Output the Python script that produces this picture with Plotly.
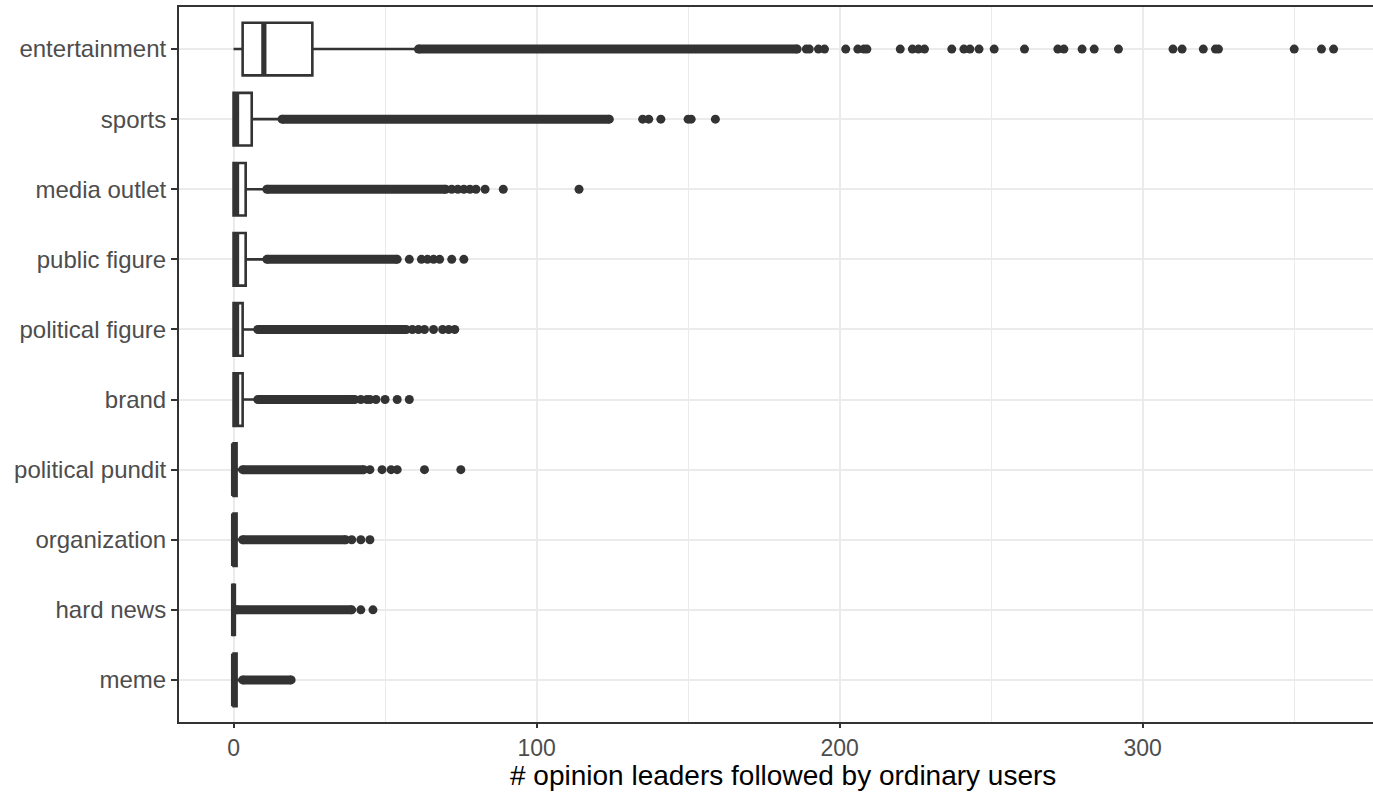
import plotly.graph_objects as go

# Categories, top to bottom
categories = ["entertainment", "sports", "media outlet", "public figure",
              "political figure", "brand", "political pundit", "organization",
              "hard news", "meme"]

# Box statistics (# opinion leaders followed)
q1 = [3, 0, 0, 0, 0, 0, 0, 0, 0, 0]
median = [10, 1, 1, 1, 1, 1, 0, 0, 0, 0]
q3 = [26, 6, 4, 4, 3, 3, 1, 1, 0, 1]
lower_whisker = [0, 0, 0, 0, 0, 0, 0, 0, 0, 0]
upper_whisker = [60, 15, 10, 10, 7, 7, 2, 2, 0, 2]

# Outliers: contiguous runs of overlapping points (first, last) ...
dense_start = [61, 16, 11, 11, 8, 8, 3, 3, 1, 3]
dense_end = [186, 124, 70, 54, 57, 40, 43, 37, 39, 19]

# ... and the isolated outlying points beyond those runs
sparse_outliers = [
    [189, 190, 193, 195, 202, 206, 208, 209, 220, 224, 226, 228, 237, 241,
     243, 246, 251, 261, 272, 274, 280, 284, 292, 310, 313, 320, 324, 325,
     350, 359, 363],
    [135, 137, 141, 150, 151, 159],
    [72, 74, 76, 78, 80, 83, 89, 114],
    [58, 62, 64, 66, 68, 72, 76],
    [59, 61, 63, 66, 69, 71, 73],
    [42, 44, 45, 47, 50, 54, 58],
    [45, 49, 52, 54, 63, 75],
    [39, 42, 45],
    [42, 46],
    [],
]

x_ticks = [0, 100, 200, 300]
x_title = "# opinion leaders followed by ordinary users"

DARK = "#333333"
GRID = "#ebebeb"
FONT = "Liberation Sans, Arial, sans-serif"
BOX_WIDTH = 0.75

positions = list(range(len(categories)))

fig = go.Figure()

fig.add_trace(go.Box(
    orientation="h",
    y=positions,
    q1=q1, median=median, q3=q3,
    lowerfence=lower_whisker, upperfence=upper_whisker,
    width=BOX_WIDTH,
    whiskerwidth=0,
    boxpoints=False,
    fillcolor="white",
    line=dict(color=DARK, width=2.6),
    showlegend=False,
    hoverinfo="skip",
))

# Thicker median bars
mx, my = [], []
for p, m in zip(positions, median):
    mx += [m, m, None]
    my += [p - BOX_WIDTH / 2, p + BOX_WIDTH / 2, None]
fig.add_trace(go.Scatter(
    x=mx, y=my, mode="lines",
    line=dict(color=DARK, width=5.2),
    showlegend=False, hoverinfo="skip",
))

# Dense outlier runs
dx, dy = [], []
for p, s, e in zip(positions, dense_start, dense_end):
    dx += [s, e, None]
    dy += [p, p, None]
fig.add_trace(go.Scatter(
    x=dx, y=dy, mode="lines+markers",
    line=dict(color=DARK, width=9),
    marker=dict(color=DARK, size=9),
    showlegend=False, hoverinfo="skip",
))

# Isolated outliers
sx, sy = [], []
for p, pts in zip(positions, sparse_outliers):
    sx += pts
    sy += [p] * len(pts)
fig.add_trace(go.Scatter(
    x=sx, y=sy, mode="markers",
    marker=dict(color=DARK, size=9),
    showlegend=False, hoverinfo="skip",
))

fig.update_layout(
    width=1373, height=792,
    margin=dict(l=179, r=0, t=7, b=70),
    paper_bgcolor="white",
    plot_bgcolor="white",
    font=dict(family=FONT),
    xaxis=dict(
        range=[-18, 376],
        tickvals=x_ticks,
        ticktext=[str(v) for v in x_ticks],
        showgrid=True, gridcolor=GRID, gridwidth=2,
        minor=dict(dtick=50, tick0=0, showgrid=True, gridcolor=GRID,
                   gridwidth=1.1, ticks=""),
        zeroline=False,
        showline=True, linecolor=DARK, linewidth=2, mirror=True,
        ticks="outside", ticklen=4, tickwidth=2, tickcolor=DARK,
        tickfont=dict(size=23, color="#4d4d4d", family=FONT),
    ),
    yaxis=dict(
        range=[len(categories) - 0.4, -0.6],
        tickvals=positions,
        ticktext=categories,
        showgrid=True, gridcolor=GRID, gridwidth=2,
        zeroline=False,
        showline=True, linecolor=DARK, linewidth=2, mirror=False,
        ticks="outside", ticklen=6, tickwidth=2, tickcolor=DARK,
        tickfont=dict(size=24, color="#4d4d4d", family=FONT),
    ),
    annotations=[dict(
        text=x_title,
        xref="paper", yref="paper",
        x=0.506, y=-0.0745,
        xanchor="center", yanchor="middle",
        showarrow=False,
        font=dict(size=28, color="black", family=FONT),
    )],
)

fig.write_html("out.html")
